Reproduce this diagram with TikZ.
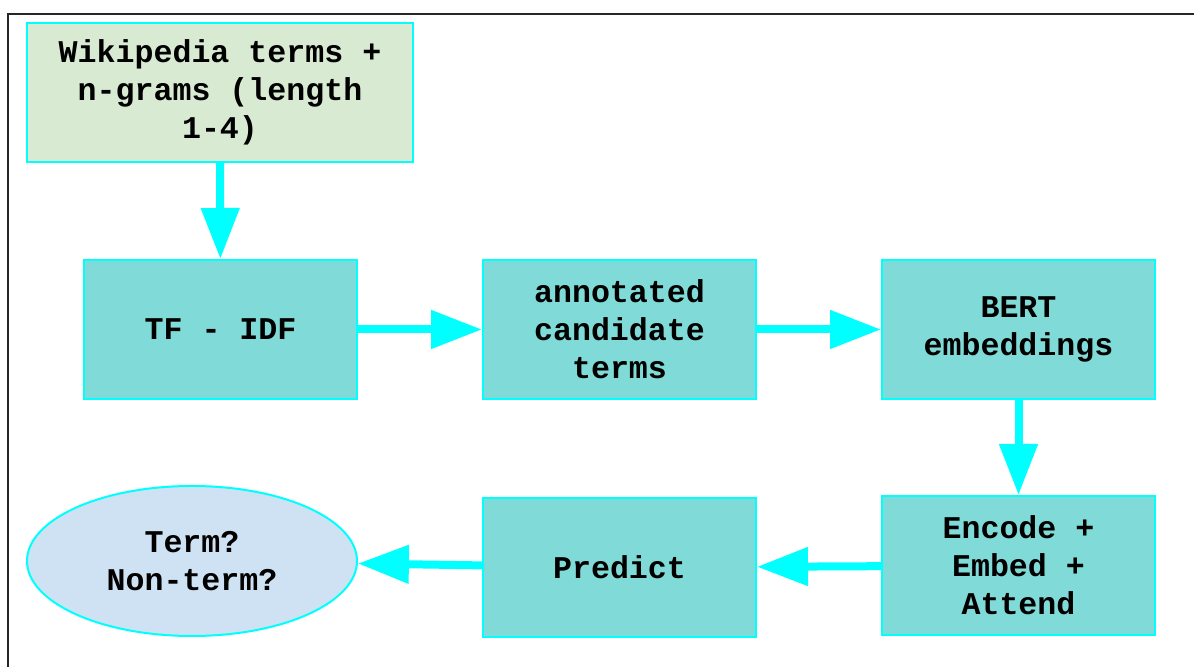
\documentclass[tikz,border=0pt]{standalone}
\usepackage{fontspec}
\setmonofont{Liberation Mono}
\usetikzlibrary{arrows.meta,shapes.geometric,positioning}
\definecolor{boxteal}{HTML}{80DBD8}
\definecolor{boxgreen}{HTML}{D9EAD3}
\definecolor{boxblue}{HTML}{CFE2F3}
\definecolor{edgecyan}{HTML}{00FFFF}

\tikzset{
  stage/.style={draw=edgecyan, line width=0.02cm, fill=boxteal, inner sep=0pt,
    minimum width=2.73cm, minimum height=1.39cm, align=center},
  flow/.style={draw=edgecyan, line width=0.08cm,
    -{Triangle[length=5.1mm, width=3.7mm]}},
}

\begin{document}
\begin{tikzpicture}[font=\ttfamily\bfseries\fontsize{9}{10.8}\selectfont]
  %% canvas and frame
  \useasboundingbox (0,0) rectangle (11.94,6.67);
  \fill[white] (0,0) rectangle (11.94,6.67);
  \draw[black!85, line width=0.02cm] (0.08,0) |- (11.94,6.53);

  %% source box
  \node[stage, fill=boxgreen, minimum width=3.86cm] (wiki) at (2.20,5.745)
    {Wikipedia terms +\\n-grams (length\\1-4)};

  %% top row
  \node[stage] (tfidf) at (2.205,3.375) {TF - IDF};
  \node[stage] (annot) at (6.195,3.375) {annotated\\candidate\\terms};
  \node[stage] (bert)  at (10.185,3.375) {BERT\\embeddings};

  %% bottom row
  \node[stage] (enc)   at (10.185,1.015) {Encode +\\Embed +\\Attend};
  \node[stage] (pred)  at (6.195,0.995) {Predict};
  \node[ellipse, draw=edgecyan, line width=0.02cm, fill=boxblue, inner sep=0pt,
    minimum width=3.30cm, minimum height=1.50cm, align=center] (out) at (1.92,1.06)
    {Term?\\Non-term?};

  %% connectors
  \draw[flow] (wiki) -- (tfidf);
  \draw[flow] (tfidf) -- (annot);
  \draw[flow] (annot) -- (bert);
  \draw[flow] (bert) -- (enc);
  \draw[flow] (enc) -- (pred);
  \draw[flow] (pred) -- (out);
\end{tikzpicture}
\end{document}
